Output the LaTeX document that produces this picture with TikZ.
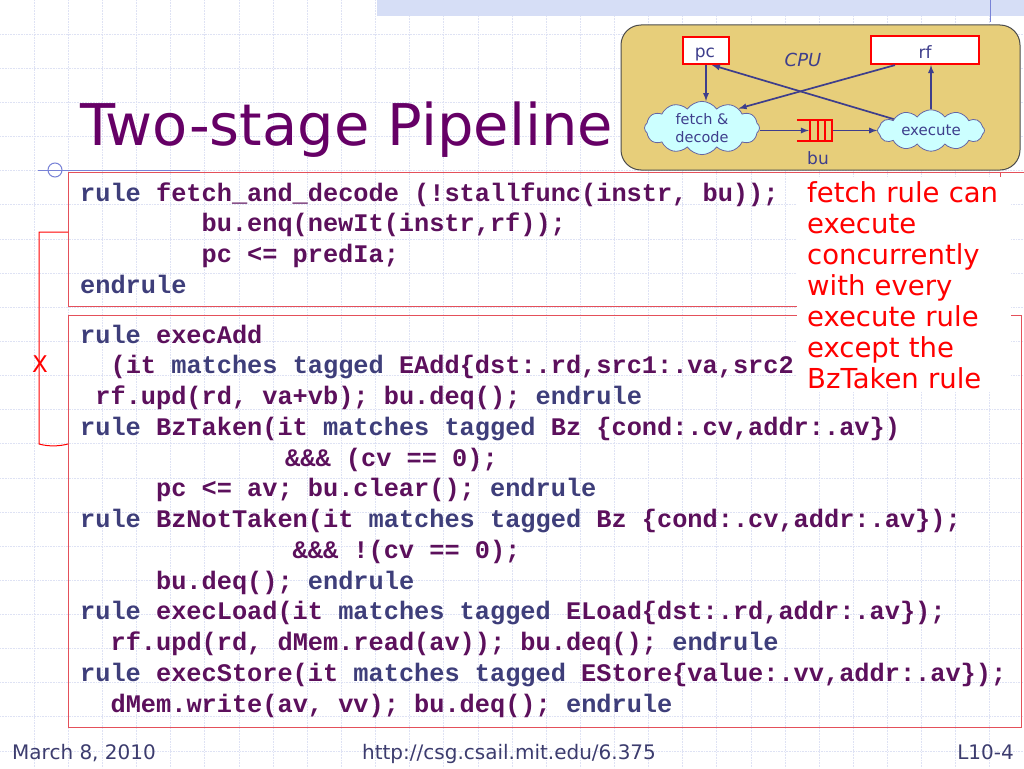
\documentclass[tikz,border=0pt]{standalone}
\usepackage{fontspec}
\setmainfont{DejaVu Sans}
\setmonofont{Liberation Mono}
\usetikzlibrary{shapes.symbols}
\definecolor{titlepurple}{RGB}{102,0,102}
\definecolor{codepurple}{RGB}{92,16,92}
\definecolor{codeblue}{RGB}{62,62,122}
\definecolor{slidegray}{RGB}{60,60,110}
\definecolor{boxred}{RGB}{228,80,90}
\definecolor{cpufill}{RGB}{231,206,122}
\definecolor{cloudfill}{RGB}{204,255,255}
\definecolor{arrowblue}{RGB}{62,62,140}
\definecolor{gridblue}{RGB}{222,226,244}
\definecolor{stripblue}{RGB}{214,222,246}
\definecolor{linkblue}{RGB}{120,130,215}
\newcommand{\codesize}{\fontsize{25.3}{30}\selectfont\ttfamily\bfseries}
\newcommand{\kw}[1]{\textcolor{codeblue}{#1}}
\begin{document}
\begin{tikzpicture}[x=1pt, y=-1pt,
  gridline/.style={gridblue, line width=.6pt, densely dotted},
  codebox/.style={draw=boxred, line width=1pt},
  codeline/.style={anchor=base west, inner sep=0, font=\codesize, text=codepurple},
  regbox/.style={draw=red, line width=2.2pt, fill=white, inner sep=0},
  cpulabel/.style={text=arrowblue, inner sep=0, font=\fontsize{17}{20}\selectfont},
  stage/.style={cloud, cloud puffs=12, cloud puff arc=110, draw=arrowblue!80, fill=cloudfill, line width=.8pt, inner sep=0, align=center, text=arrowblue, font=\fontsize{14.5}{18}\selectfont},
  flow/.style={->, >=latex, arrowblue, line width=1.7pt},
  foot/.style={text=slidegray, inner sep=0, font=\fontsize{20}{24}\selectfont}]
            \useasboundingbox[fill=white] (0,0) rectangle (1024,768);
            \foreach \i in {1,...,30} \draw[gridline] (\i*34.13,0) -- (\i*34.13,768);
            \foreach \j in {1,...,22} \draw[gridline] (0,\j*34.13) -- (1024,\j*34.13);
            \fill[stripblue] (377,0) rectangle (1024,16);
            \draw[linkblue, line width=1pt] (990,0) -- (990,22);

            \node[anchor=base west, inner sep=0, text=titlepurple, font=\fontsize{57.5}{60}\selectfont] (title) at (80,145) {Two-stage Pipeline};
            \draw[linkblue, line width=1pt] (38,170) -- (200,170);
            \draw[linkblue, line width=1pt] (55,170) circle (7);
            \draw[boxred, line width=1pt] (68,172) -- (1024,172);

            \draw[codebox] (68,172) rectangle (1000,306);
            \draw[codebox] (68,315) rectangle (1021,727);

            \node[codeline] (f1) at (80,201) {\kw{rule} fetch\_and\_decode (!stallfunc(instr, bu));};
            \node[codeline] (f2) at (201.4,231.75) {bu.enq(newIt(instr,rf));};
            \node[codeline] (f3) at (201.4,262.5) {pc <= predIa;};
            \node[codeline] (f4) at (80,293.25) {\kw{endrule}};

            \node[codeline] (x1) at (80,343) {\kw{rule} execAdd};
            \node[codeline] (x2) at (110.4,373.75) {(it \kw{matches tagged} EAdd\{dst:.rd,src1:.va,src2};
            \node[codeline] (x3) at (95.2,404.5) {rf.upd(rd, va+vb); bu.deq(); \kw{endrule}};
            \node[codeline] (x4) at (80,435.25) {\kw{rule} BzTaken(it \kw{matches tagged} Bz \{cond:.cv,addr:.av\})};
            \node[codeline] (x5) at (285,466) {\&\&\& (cv == 0);};
            \node[codeline] (x6) at (155.9,496.75) {pc <= av; bu.clear(); \kw{endrule}};
            \node[codeline] (x7) at (80,527.5) {\kw{rule} BzNotTaken(it \kw{matches tagged} Bz \{cond:.cv,addr:.av\});};
            \node[codeline] (x8) at (292.5,558.25) {\&\&\& !(cv == 0);};
            \node[codeline] (x9) at (155.9,589) {bu.deq(); \kw{endrule}};
            \node[codeline] (x10) at (80,619.75) {\kw{rule} execLoad(it \kw{matches tagged} ELoad\{dst:.rd,addr:.av\});};
            \node[codeline] (x11) at (110.4,650.5) {rf.upd(rd, dMem.read(av)); bu.deq(); \kw{endrule}};
            \node[codeline] (x12) at (80,681.25) {\kw{rule} execStore(it \kw{matches tagged} EStore\{value:.vv,addr:.av\});};
            \node[codeline] (x13) at (110.4,712) {dMem.write(av, vv); bu.deq(); \kw{endrule}};

            \node[anchor=north west, fill=white, inner xsep=10, inner ysep=4, text width=194, align=left, text=red, font=\fontsize{27.5}{31}\selectfont] (note) at (797,177) {fetch rule can\\execute\\concurrently\\with every\\execute rule\\except the\\BzTaken rule};

            \draw[red, line width=1pt] (68,232) -- (39,232) -- (39,444) .. controls (50,447) and (60,446) .. (68,444);
            \node[text=red, inner sep=0, font=\fontsize{23}{26}\selectfont] (xmark) at (40,364) {X};

            \draw[rounded corners=20pt, fill=cpufill, draw=gray!60!black, line width=1pt] (621,25) rectangle (1020,170);
            \node[regbox, minimum width=46, minimum height=27] (pc) at (706,50.5) {};
            \node[regbox, minimum width=108, minimum height=28] (rf) at (925,50) {};
            \node[cpulabel] (pctext) at (705,55) {pc};
            \node[cpulabel] (rftext) at (925,52) {rf};
            \node[cpulabel, font=\itshape\fontsize{18}{20}\selectfont] (cpu) at (803,60) {CPU};
            \node[stage, aspect=2.4, minimum width=115, minimum height=49] (fetch) at (702,128) {fetch \&\\decode};
            \node[stage, aspect=2.7, minimum width=107, minimum height=41, font=\fontsize{15}{18}\selectfont] (execute) at (931,130.5) {execute};
            \node[minimum width=36, minimum height=21, inner sep=0] (bu) at (815,130.5) {};
            \draw[red, line width=2pt] (bu.north west) -- (bu.north east) (bu.south west) -- (bu.south east);
            \foreach \d in {13,21,28,35} \draw[red, line width=2pt] ([xshift=\d]bu.north west) -- ([xshift=\d]bu.south west);
            \node[cpulabel] (butext) at (818,158) {bu};

            \draw[flow] (pc.south) -- (pc.south |- fetch.north);
            \draw[flow] ([xshift=-30]rf.south) -- (fetch.28);
            \draw[flow] (execute.163) -- ([xshift=6]pc.south);
            \draw[flow] (execute.north) -- (execute.north |- rf.south);
            \draw[flow] (fetch.east |- bu) -- ([xshift=12]bu.west);
            \draw[flow] (bu.east) -- (execute.west);

            \node[foot, anchor=base west] (date) at (12,759) {March 8, 2010};
            \node[foot, anchor=base] (url) at (509,759) {http://csg.csail.mit.edu/6.375};
            \node[foot, anchor=base east] (slideno) at (1014,759) {L10-4};
        \end{tikzpicture}
\end{document}
